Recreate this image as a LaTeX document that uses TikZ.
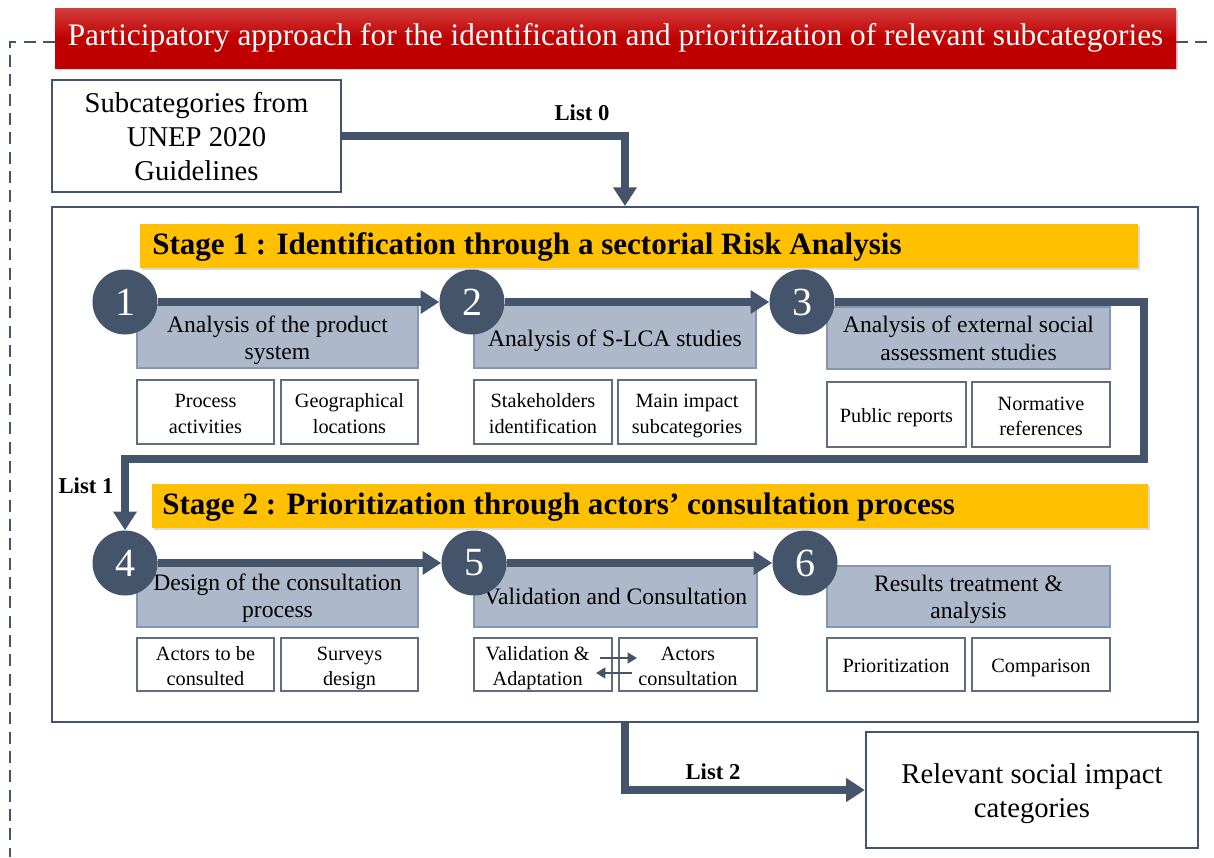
\documentclass[tikz,border=0pt]{standalone}
\usepackage{fontspec}
\setmainfont{Liberation Serif}
\usetikzlibrary{arrows.meta,shadows,fit}
\definecolor{slate}{RGB}{68,84,106}
\definecolor{greyblue}{RGB}{173,185,202}
\definecolor{greyedge}{RGB}{132,151,176}
\definecolor{stageor}{RGB}{255,192,0}
\definecolor{redtop}{RGB}{212,62,62}
\definecolor{redbot}{RGB}{192,0,0}
\begin{document}
\begin{tikzpicture}[x=0.75pt,y=-0.75pt,
  titlebox/.style={top color=redtop, bottom color=redbot, middle color=redbot, draw=none, inner sep=0pt,
     drop shadow={opacity=0.35, shadow xshift=1.2pt, shadow yshift=-1.5pt}},
  titletext/.style={text=white, inner sep=0pt, font=\fontsize{23.5}{27}\selectfont},
  srcbox/.style={draw=slate, line width=1.7pt, fill=white, inner sep=0pt},
  srctext/.style={inner sep=0pt, align=center, yshift=-2.8pt, font=\fontsize{21.5}{25.5}\selectfont},
  bigbox/.style={draw=slate, line width=1.5pt, inner sep=0pt},
  stagebar/.style={fill=stageor, draw=none, inner sep=0pt,
     drop shadow={opacity=0.3, shadow xshift=1.2pt, shadow yshift=-1.5pt}},
  stagetext/.style={font=\fontsize{23.3}{27}\selectfont\bfseries, inner sep=0pt},
  greybox/.style={fill=greyblue, draw=greyedge, line width=0.8pt, inner sep=0pt},
  greytext/.style={inner sep=0pt, align=center, yshift=-2.2pt, font=\fontsize{17.7}{20.5}\selectfont},
  subbox/.style={fill=white, draw=slate!85, line width=0.9pt, inner sep=0pt},
  subtext/.style={inner sep=0pt, align=center, yshift=-2.5pt, font=\fontsize{15.2}{19}\selectfont},
  numcircle/.style={circle, fill=slate, draw=none, minimum size=48.75pt, inner sep=0pt,
     text=white, font=\fontsize{30}{30}\selectfont},
  flow/.style={draw=slate, line width=6pt, line join=miter, -{Triangle[width=17pt,length=14pt]}},
  xarrow/.style={draw=slate, line width=2pt, -{Triangle[width=8pt,length=7pt]}},
  listlabel/.style={font=\fontsize{17}{20}\selectfont\bfseries, inner sep=0pt},
  dashframe/.style={draw=slate, line width=2pt, dash pattern=on 9pt off 5.5pt}
]
\useasboundingbox (0,0) rectangle (1214,857);

% dashed frame
\coordinate (dl0) at (55,42);
\coordinate (dl1) at (10,42);
\coordinate (dl2) at (10,857);
\coordinate (dr0) at (1176,42);
\coordinate (dr1) at (1214,42);
\draw[dashframe] (dl0) -- (dl1) -- (dl2);
\draw[dashframe] (dr0) -- (dr1);

% title
\node[titlebox, fit={(55,8)(1176,68)}] (title) {};
\node[titletext] (titlet) at (title.center) {Participatory approach for the identification and prioritization of relevant subcategories};

% source box
\node[srcbox, fit={(52,80)(341,192)}] (src) {};
\node[srctext] (srct) at (src.center) {Subcategories from\strut\\UNEP 2020\strut\\Guidelines\strut};

% big box
\node[bigbox, fit={(52,207)(1198,722)}] (big) {};

% stage bars
\node[stagebar, fit={(140,224)(1138,268)}] (s1) {};
\node[stagetext, anchor=west] (s1t) at (152,247) {Stage 1 : Identification through a sectorial Risk Analysis};
\node[stagebar, fit={(152,484)(1148,528)}] (s2) {};
\node[stagetext, anchor=west] (s2t) at (162,507) {Stage 2 : Prioritization through actors’ consultation process};

% grey boxes stage 1
\node[greybox, fit={(137,305)(418,368)}] (g1) {};
\node[greytext] (g1t) at ([yshift=-1pt]g1.center) {Analysis of the product\strut\\system\strut};
\node[greybox, fit={(474,305)(756,368)}] (g2) {};
\node[greytext] (g2t) at ([yshift=-1pt]g2.center) {Analysis of S-LCA studies\strut};
\node[greybox, fit={(827,307)(1110,369)}] (g3) {};
\node[greytext] (g3t) at (g3.center) {Analysis of external social\strut\\assessment studies\strut};
% grey boxes stage 2
\node[greybox, fit={(137,562)(418,627)}] (g4) {};
\node[greytext] (g4t) at ([yshift=-1pt]g4.center) {Design of the consultation\strut\\process\strut};
\node[greybox, fit={(474,562)(757,627)}] (g5) {};
\node[greytext] (g5t) at ([yshift=-1pt]g5.center) {Validation and Consultation\strut};
\node[greybox, fit={(827,566)(1110,627)}] (g6) {};
\node[greytext] (g6t) at (g6.center) {Results treatment \&\strut\\analysis\strut};

% sub boxes row 1
\node[subbox, fit={(137,380)(274,444)}] (pa) {};
\node[subtext] (pat) at (pa.center) {Process\strut\\activities\strut};
\node[subbox, fit={(281,380)(418,444)}] (gl) {};
\node[subtext] (glt) at (gl.center) {Geographical\strut\\locations\strut};
\node[subbox, fit={(474,380)(612,444)}] (si) {};
\node[subtext] (sit) at (si.center) {Stakeholders\strut\\identification\strut};
\node[subbox, fit={(618,380)(756,444)}] (mi) {};
\node[subtext] (mit) at (mi.center) {Main impact\strut\\subcategories\strut};
\node[subbox, fit={(827,382)(966,447)}] (pr) {};
\node[subtext] (prt) at (pr.center) {Public reports\strut};
\node[subbox, fit={(972,382)(1110,447)}] (nr) {};
\node[subtext] (nrt) at (nr.center) {Normative\strut\\references\strut};
% sub boxes row 2
\node[subbox, fit={(137,638)(274,691)}] (ac1) {};
\node[subtext] (ac1t) at (ac1.center) {Actors to be\strut\\consulted\strut};
\node[subbox, fit={(281,638)(418,691)}] (sd) {};
\node[subtext] (sdt) at (sd.center) {Surveys\strut\\design\strut};
\node[subbox, fit={(474,638)(612,691)}] (va) {};
\node[subtext] (vat) at ([xshift=-4pt]va.center) {Validation \&\strut\\Adaptation\strut};
\node[subbox, fit={(619,638)(757,691)}] (aco) {};
\node[subtext] (acot) at (aco.center) {Actors\strut\\consultation\strut};
\node[subbox, fit={(827,638)(965,691)}] (pz) {};
\node[subtext] (pzt) at (pz.center) {Prioritization\strut};
\node[subbox, fit={(972,638)(1110,691)}] (cp) {};
\node[subtext] (cpt) at (cp.center) {Comparison\strut};

% relevant box
\node[srcbox, fit={(866,732)(1198,848)}] (rel) {};
\node[srctext] (relt) at (rel.center) {Relevant social impact\strut\\categories\strut};

% circles
\node[numcircle] (c1) at (125,302) {1};
\node[numcircle] (c2) at (472,302) {2};
\node[numcircle] (c3) at (802,302) {3};
\node[numcircle] (c4) at (125,563) {4};
\node[numcircle] (c5) at (474,563) {5};
\node[numcircle] (c6) at (805,563) {6};

% flows
\draw[flow] (src.east) -| (big.north);
\draw[flow] (c1) -- (c2);
\draw[flow] (c2) -- (c3);
\coordinate (r3a) at (1144,302);
\coordinate (r3b) at (1144,459);
\coordinate (r3c) at (125,459);
\draw[flow] (c3) -- (r3a) -- (r3b) -- (r3c) -- (c4);
\draw[flow] (c4) -- (c5);
\draw[flow] (c5) -- (c6);
\draw[flow] (big.south) |- (rel.west);

% exchange arrows
\coordinate (xa1) at (600,658);
\coordinate (xa2) at (637,658);
\coordinate (xb1) at (632,673);
\coordinate (xb2) at (596,673);
\draw[xarrow] (xa1) -- (xa2);
\draw[xarrow] (xb1) -- (xb2);

% list labels
\node[listlabel] (l0) at (582,113) {List 0};
\node[listlabel] (l1) at (86,486) {List 1};
\node[listlabel] (l2) at (713,772) {List 2};
\end{tikzpicture}
\end{document}
